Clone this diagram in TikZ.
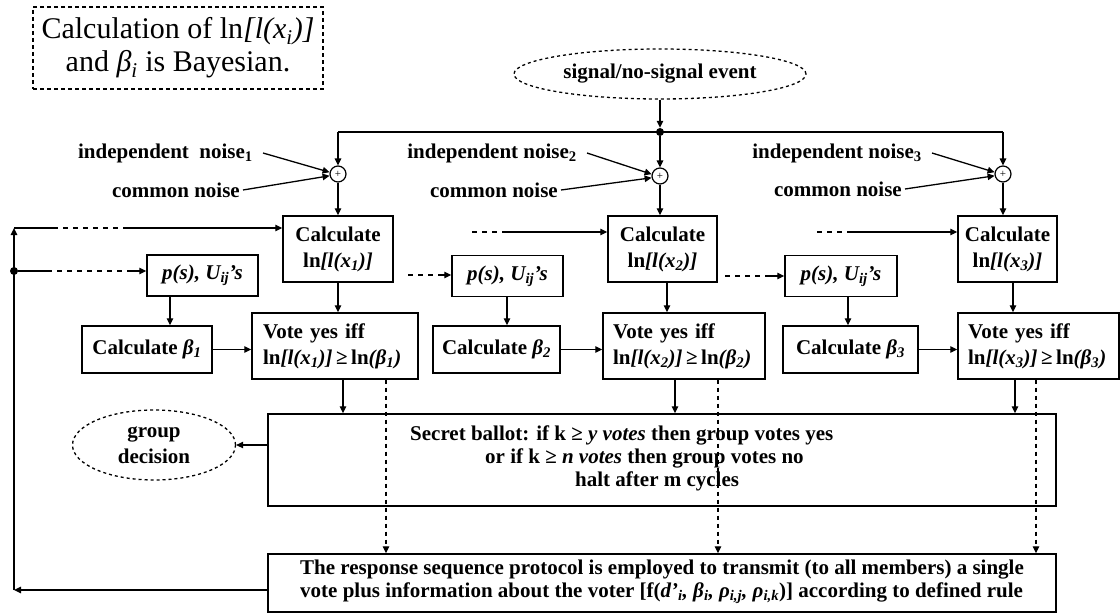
\documentclass[tikz,border=0pt]{standalone}
\usepackage{fontspec}
\setmainfont{Liberation Serif}
\usetikzlibrary{arrows.meta,shapes.geometric}
\newcommand\fs{\fontsize{21}{26}\selectfont\bfseries}
\newcommand\fsbig{\fontsize{30}{33}\selectfont}
\tikzset{
  box/.style={draw, line width=1.4pt, inner sep=0pt, align=center, font=\fs},
  vbox/.style={draw, line width=1.4pt, inner sep=0pt, align=left, font=\fs},
  arr/.style={line width=1.3pt, -{Triangle[length=7pt,width=6.5pt]}},
  ln/.style={line width=1.3pt},
  dsh/.style={line width=1.3pt, dash pattern=on 5pt off 5pt},
  darr/.style={line width=1.2pt, dash pattern=on 4pt off 4pt, -{Triangle[length=7pt,width=6.5pt]}},
  lbl/.style={inner sep=0pt, font=\fs},
  sumc/.style={draw, circle, line width=1.2pt, minimum size=16pt, inner sep=0pt, font=\fontsize{11}{11}\selectfont},
  dotn/.style={circle, fill, minimum size=8pt, inner sep=0pt},
  dell/.style={draw, ellipse, line width=1.3pt, dash pattern=on 3pt off 3pt, inner sep=0pt, align=center, font=\fs}
}
\begin{document}
\begin{tikzpicture}[x=1pt,y=-1pt]
\useasboundingbox (0,0) rectangle (1120,615);
% note
\node[draw, line width=1.2pt, dash pattern=on 4pt off 3pt, minimum width=290pt, minimum height=82pt, inner sep=0pt, align=center, font=\fsbig] (note) at (178,48)
  {Calculation of ln\textit{[l(x\textsubscript{i})]}\\and \textit{β\textsubscript{i}} is Bayesian.};
% signal
\node[dell, minimum width=292pt, minimum height=50pt] (sig) at (660,74) {signal/no-signal event};
\node[dotn] (bd) at (660,132) {};
% sum circles
\node[sumc] (c1) at (338,174) {+};
\node[sumc] (c2) at (660,176) {+};
\node[sumc] (c3) at (1003,174) {+};
% noise labels
\node[lbl, anchor=east] (in1) at (253,153) {independent\ \ noise\textsubscript{1}};
\node[lbl, anchor=east] (cn1) at (240,190) {common noise};
\node[lbl, anchor=east] (in2) at (577,153) {independent noise\textsubscript{2}};
\node[lbl, anchor=east] (cn2) at (558,190) {common noise};
\node[lbl, anchor=east] (in3) at (922,153) {independent noise\textsubscript{3}};
\node[lbl, anchor=east] (cn3) at (902,189) {common noise};
% calc ln boxes
\node[box, minimum width=110pt, minimum height=66pt] (cl1) at (338,249) {Calculate\\ln\textit{[l(x\textsubscript{1})]}};
\node[box, minimum width=109pt, minimum height=66pt] (cl2) at (662.5,249) {Calculate\\ln\textit{[l(x\textsubscript{2})]}};
\node[box, minimum width=99pt, minimum height=66pt] (cl3) at (1007.5,249) {Calculate\\ln\textit{[l(x\textsubscript{3})]}};
% p(s) boxes
\node[box, minimum width=111pt, minimum height=41pt] (ps1) at (202.5,275.5) {\textit{p(s), U\textsubscript{ij}'s}};
\node[box, minimum width=111pt, minimum height=41pt] (ps2) at (507.5,276) {\textit{p(s), U\textsubscript{ij}'s}};
\node[box, minimum width=112pt, minimum height=41pt] (ps3) at (841,276) {\textit{p(s), U\textsubscript{ij}'s}};
% beta boxes
\node[box, minimum width=130pt, minimum height=47pt] (b1) at (147,349.5) {Calculate \textit{β\textsubscript{1}}};
\node[box, minimum width=127pt, minimum height=47pt] (b2) at (496.5,349.5) {Calculate \textit{β\textsubscript{2}}};
\node[box, minimum width=135pt, minimum height=47pt] (b3) at (850.5,349.5) {Calculate \textit{β\textsubscript{3}}};
% vote boxes
\node[vbox, minimum width=166pt, minimum height=66pt, text width=144pt] (v1) at (335,346) {Vote yes iff\\ln\textit{[l(x\textsubscript{1})]}\,≥\,ln\textit{(β\textsubscript{1})}};
\node[vbox, minimum width=162pt, minimum height=66pt, text width=142pt] (v2) at (684,346) {Vote yes iff\\ln\textit{[l(x\textsubscript{2})]}\,≥\,ln\textit{(β\textsubscript{2})}};
\node[vbox, minimum width=161pt, minimum height=66pt, text width=141pt] (v3) at (1038.5,346) {Vote yes iff\\ln\textit{[l(x\textsubscript{3})]}\,≥\,ln\textit{(β\textsubscript{3})}};
% ballot
\node[draw, line width=1.4pt, minimum width=788pt, minimum height=92pt, inner sep=0pt] (bal) at (662,460) {};
\node[lbl, anchor=west] (bt1) at (410,435) {Secret ballot: if k ≥ \textit{y votes} then group votes yes};
\node[lbl, anchor=west] (bt2) at (485,458) {or if k ≥ \textit{n votes} then group votes no};
\node[lbl, anchor=west] (bt3) at (575,481) {halt after m cycles};
% response
\node[draw, line width=1.4pt, minimum width=788pt, minimum height=58pt, inner sep=0pt] (resp) at (662,583) {};
\node[lbl, anchor=west, align=left, font=\fontsize{21}{23}\selectfont\bfseries] (rt) at (300,582) {The response sequence protocol is employed to transmit (to all members) a single\\vote plus information about the voter [f(\textit{d'\textsubscript{i}, β\textsubscript{i}, ρ\textsubscript{i,j}, ρ\textsubscript{i,k}})] according to defined rule};
% group decision
\node[dell, minimum width=163pt, minimum height=70pt] (grp) at (154,445) {group\\decision};

% ---- connectors ----
\draw[arr] (sig) -- (bd);
\draw[ln] (c1 |- bd) -- (c3 |- bd);
\draw[arr] (c1 |- bd) -- (c1);
\draw[arr] (bd) -- (c2);
\draw[arr] (c3 |- bd) -- (c3);
\draw[arr] ([xshift=10pt]in1.east) -- (c1.168);
\draw[arr] ([xshift=3pt]cn1.east) -- (c1.192);
\draw[arr] ([xshift=10pt]in2.east) -- (c2.168);
\draw[arr] ([xshift=3pt]cn2.east) -- (c2.192);
\draw[arr] ([xshift=10pt]in3.east) -- (c3.168);
\draw[arr] ([xshift=3pt]cn3.east) -- (c3.192);
\draw[arr] (c1) -- (c1 |- cl1.north);
\draw[arr] (c2) -- (c2 |- cl2.north);
\draw[arr] (c3) -- (c3 |- cl3.north);
% calc ln -> vote
\coordinate (a1) at (338,0); \coordinate (a2) at (667,0); \coordinate (a3) at (1013,0);
\draw[arr] (cl1.south -| a1) -- (v1.north -| a1);
\draw[arr] (cl2.south -| a2) -- (v2.north -| a2);
\draw[arr] (cl3.south -| a3) -- (v3.north -| a3);
% p(s) -> beta
\coordinate (p1) at (170,0); \coordinate (p2) at (507,0); \coordinate (p3) at (848,0);
\draw[arr] (ps1.south -| p1) -- (b1.north -| p1);
\draw[arr] (ps2.south -| p2) -- (b2.north -| p2);
\draw[arr] (ps3.south -| p3) -- (b3.north -| p3);
% beta -> vote
\draw[arr] (b1.east) -- (b1.east -| v1.west);
\draw[arr] (b2.east) -- (b2.east -| v2.west);
\draw[arr] (b3.east) -- (b3.east -| v3.west);
% vote -> ballot
\coordinate (s1) at (343,0); \coordinate (s2) at (675,0); \coordinate (s3) at (1015,0);
\draw[arr] (v1.south -| s1) -- (bal.north -| s1);
\draw[arr] (v2.south -| s2) -- (bal.north -| s2);
\draw[arr] (v3.south -| s3) -- (bal.north -| s3);
% vote -> response (dashed)
\coordinate (d1) at (386,0); \coordinate (d2) at (718,0); \coordinate (d3) at (1036,0);
\draw[darr] (v1.south -| d1) -- (resp.north -| d1);
\draw[darr] (v2.south -| d2) -- (resp.north -| d2);
\draw[darr] (v3.south -| d3) -- (resp.north -| d3);
% ballot -> group
\draw[arr] (bal.west |- grp) -- (grp);
% feedback
\coordinate (fbl) at (14,590);
\coordinate (fbt) at (14,228);
\node[dotn] (fd) at (14,271) {};
\draw[arr] (resp.west |- fbl) -- (fbl);
\draw[arr] (fbl) -- (fbt);
\coordinate (t1a) at (53,228); \coordinate (t1b) at (125,228);
\draw[ln] (fbt) -- (t1a);
\draw[dsh] (t1a) -- (t1b);
\draw[arr] (t1b) -- (t1b -| cl1.west);
\coordinate (q1a) at (47,271); \coordinate (q1b) at (132,271);
\draw[ln] (fd) -- (q1a);
\draw[dsh] (q1a) -- (q1b);
\draw[arr] (q1b) -- (q1b -| ps1.west);
% other members' inputs
\coordinate (t2a) at (472,232); \coordinate (t2b) at (503,232);
\draw[dsh] (t2a) -- (t2b);
\draw[arr] (t2b) -- (t2b -| cl2.west);
\coordinate (q2a) at (408,275); \coordinate (q2b) at (440,275);
\draw[dsh] (q2a) -- (q2b);
\draw[arr] (q2b) -- (q2b -| ps2.west);
\coordinate (t3a) at (817,232); \coordinate (t3b) at (852,232);
\draw[dsh] (t3a) -- (t3b);
\draw[arr] (t3b) -- (t3b -| cl3.west);
\coordinate (q3a) at (725,276); \coordinate (q3b) at (768,276);
\draw[dsh] (q3a) -- (q3b);
\draw[arr] (q3b) -- (q3b -| ps3.west);
\end{tikzpicture}
\end{document}
